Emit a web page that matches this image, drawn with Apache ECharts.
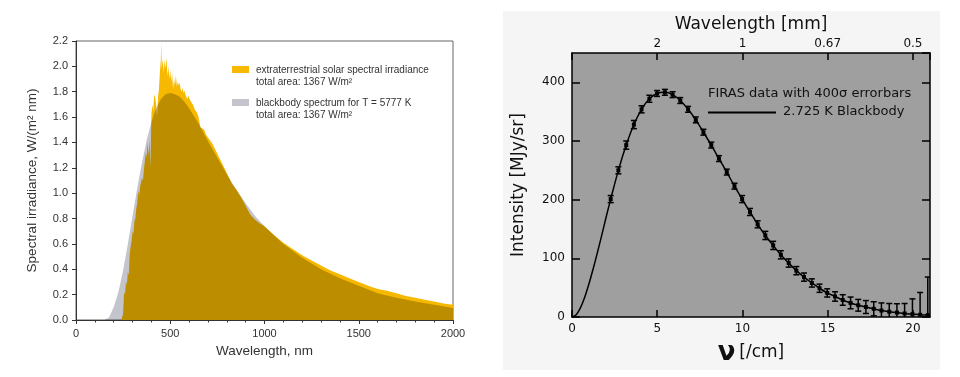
<!DOCTYPE html>
<html>
<head>
<meta charset="utf-8">
<script src="https://cdn.jsdelivr.net/npm/echarts@6/dist/echarts.min.js"></script>
<style>
  html, body { margin: 0; padding: 0; background: #fff; }
  #chart { width: 960px; height: 377px; }
</style>
</head>
<body>
<div id="chart"></div>
<script>
// left panel: extraterrestrial solar spectrum vs 5777 K blackbody (W/(m² nm))
const solarWavelength = [240, 250, 255, 260, 265, 270, 275, 280, 285, 290, 295, 300, 305, 310, 315, 320, 325, 330, 335, 340,
  345, 350, 355, 360, 365, 370, 375, 380, 385, 390, 395, 400, 405, 410, 415, 420, 425, 430, 435, 440, 445, 450, 452,
  455, 460, 465, 470, 475, 480, 485, 490, 495, 500, 505, 510, 515, 520, 525, 530, 535, 540, 545, 550, 555, 560, 565,
  570, 575, 580, 585, 590, 595, 600, 610, 620, 630, 640, 650, 660, 670, 680, 690, 700, 720, 740, 760, 780, 800,
  825, 850, 875, 900, 925, 950, 975, 1000, 1050, 1100, 1150, 1200, 1250, 1300, 1350, 1400, 1450, 1500, 1550, 1600,
  1650, 1700, 1750, 1800, 1850, 1900, 1950, 2000];
const solarIrradiance = [0, 0.05, 0.22, 0.2, 0.3, 0.28, 0.38, 0.35, 0.52, 0.58, 0.62, 0.7, 0.68, 0.78, 0.8, 0.88, 0.92, 1.02, 0.98, 1.05,
  1.06, 1.12, 1.1, 1.18, 1.25, 1.32, 1.28, 1.4, 1.3, 1.42, 1.2, 1.62, 1.7, 1.65, 1.78, 1.75, 1.7, 1.6, 1.75, 1.82, 1.95, 2.05, 2.19,
  1.98, 2.06, 1.95, 2.05, 1.98, 2.07, 1.92, 2.0, 1.9, 1.97, 1.88, 1.95, 1.82, 1.9, 1.85, 1.93, 1.84, 1.88, 1.85, 1.87, 1.82, 1.8, 1.83,
  1.79, 1.81, 1.78, 1.76, 1.74, 1.77, 1.75, 1.72, 1.7, 1.66, 1.64, 1.6, 1.52, 1.53, 1.5, 1.46, 1.44, 1.4, 1.34, 1.28, 1.22, 1.16,
  1.08, 1.03, 0.97, 0.9, 0.83, 0.79, 0.76, 0.74, 0.67, 0.61, 0.56, 0.51, 0.47, 0.43, 0.39, 0.36, 0.33, 0.3, 0.27, 0.245,
  0.23, 0.21, 0.19, 0.175, 0.16, 0.145, 0.13, 0.12];
const bbWavelength = [150, 175, 200, 225, 250, 275, 300, 325, 350, 375, 400, 425, 450, 475, 500, 525, 550, 575, 600, 650,
  700, 750, 800, 850, 900, 950, 1000, 1100, 1200, 1300, 1400, 1500, 1600, 1700, 1800, 1900, 2000];
const bbIrradiance = [0, 0.02, 0.1, 0.22, 0.39, 0.6, 0.82, 1.04, 1.24, 1.42, 1.56, 1.67, 1.74, 1.78, 1.79, 1.78, 1.76, 1.72, 1.67, 1.55,
  1.41, 1.28, 1.15, 1.03, 0.92, 0.82, 0.74, 0.6, 0.49, 0.4, 0.33, 0.27, 0.21, 0.175, 0.145, 0.12, 0.095];

// right panel: COBE FIRAS spectrum (MJy/sr) with 400 sigma error bars
const firasNu = [2.27, 2.72, 3.18, 3.63, 4.08, 4.54, 4.99, 5.45, 5.90, 6.35, 6.81, 7.26, 7.71, 8.17, 8.62, 9.08, 9.53, 9.98,
  10.44, 10.89, 11.34, 11.80, 12.25, 12.71, 13.16, 13.61, 14.07, 14.52, 14.97, 15.43, 15.88, 16.34, 16.79, 17.24,
  17.70, 18.15, 18.61, 19.06, 19.51, 19.97, 20.42, 20.87];
const firasIntensity = [201, 250, 293, 328, 354, 372, 381, 383, 379, 369, 354, 336, 315, 293, 270, 247, 223, 201,
  179, 158, 139, 122, 106, 92, 79, 68, 58, 49, 41, 35, 29, 24, 20, 17, 14, 11, 9, 7.6, 6, 4.9, 3.8, 3.1];
const firasError = [6, 6, 7, 7, 6, 6, 5, 5, 5, 5, 5, 5, 5, 5, 5, 5, 5, 6, 6, 6, 7, 7, 7, 7, 7, 7, 7, 7, 7, 8,
  9, 10, 10, 11, 12, 13, 14, 15, 17, 26, 38, 65];
const cmbNu = [0, 0.25, 0.5, 0.75, 1, 1.25, 1.5, 1.75, 2, 2.27, 2.72, 3.18, 3.63, 4.08, 4.54, 4.99, 5.45, 5.9, 6.35, 6.81,
  7.26, 7.71, 8.17, 8.62, 9.08, 9.53, 9.98, 10.44, 10.89, 11.34, 11.8, 12.25, 12.71, 13.16, 13.61, 14.07, 14.52, 14.97,
  15.43, 15.88, 16.34, 16.79, 17.24, 17.7, 18.15, 18.61, 19.06, 19.51, 19.97, 20.42, 20.87, 21];
const cmbIntensity = [0, 4, 16, 34, 57, 83, 111, 140, 170, 201, 250, 293, 328, 354, 372, 381, 383, 379, 369, 354,
  336, 315, 293, 270, 247, 223, 201, 179, 158, 139, 122, 106, 92, 79, 68, 58, 49, 41,
  35, 29, 24, 20, 17, 14, 11, 9, 7.6, 6, 4.9, 3.8, 3.1, 2.8];
const topTickNu = [5, 10, 15, 20];
const topTickLabels = ['2', '1', '0.67', '0.5'];

const GOLD = '#f6b800';
const GREY = '#c4c4cc';
const LFONT = 'Liberation Sans';
const RFONT = 'DejaVu Sans';

const chart = echarts.init(document.getElementById('chart'));

const option = {
  animation: false,
  backgroundColor: '#fff',
  graphic: [
    { type: 'rect', z: -10, silent: true, shape: { x: 503, y: 11, width: 437, height: 359 }, style: { fill: '#f5f5f5' } },
    // left legend
    { type: 'rect', shape: { x: 232, y: 66, width: 17, height: 7 }, style: { fill: GOLD } },
    { type: 'text', x: 256, y: 70, style: { text: 'extraterrestrial solar spectral irradiance', fontSize: 10, fontFamily: LFONT, fill: '#333', verticalAlign: 'middle' } },
    { type: 'text', x: 256, y: 82.5, style: { text: 'total area: 1367 W/m²', fontSize: 10, fontFamily: LFONT, fill: '#333', verticalAlign: 'middle' } },
    { type: 'rect', shape: { x: 232, y: 99, width: 17, height: 7 }, style: { fill: GREY } },
    { type: 'text', x: 256, y: 103, style: { text: 'blackbody spectrum for T = 5777 K', fontSize: 10, fontFamily: LFONT, fill: '#333', verticalAlign: 'middle' } },
    { type: 'text', x: 256, y: 115.5, style: { text: 'total area: 1367 W/m²', fontSize: 10, fontFamily: LFONT, fill: '#333', verticalAlign: 'middle' } },
    // right legend
    { type: 'text', x: 708, y: 94, style: { text: 'FIRAS data with 400σ errorbars', fontSize: 13, fontFamily: RFONT, fill: '#111', verticalAlign: 'middle' } },
    { type: 'line', shape: { x1: 708, y1: 112.5, x2: 776, y2: 112.5 }, style: { stroke: '#000', lineWidth: 2 } },
    { type: 'text', x: 783, y: 112, style: { text: '2.725 K Blackbody', fontSize: 13, fontFamily: RFONT, fill: '#111', verticalAlign: 'middle' } }
  ],
  grid: [
    { left: 76, right: 507, top: 41, bottom: 57, show: true, borderColor: '#666', borderWidth: 1, backgroundColor: 'transparent' },
    { left: 572, right: 30, top: 53, bottom: 60, show: true, borderWidth: 0, backgroundColor: '#9f9f9f' }
  ],
  xAxis: [
    {
      type: 'value', gridIndex: 0, min: 0, max: 2000, interval: 500,
      axisLine: { lineStyle: { color: '#333', width: 1 } },
      axisTick: { length: 4, lineStyle: { color: '#333' } },
      minorTick: { show: true, splitNumber: 5, length: 2.5, lineStyle: { color: '#333' } },
      splitLine: { show: false },
      axisLabel: { color: '#333', fontSize: 11, fontFamily: LFONT, margin: 8, formatter: v => String(v) },
      name: 'Wavelength, nm', nameLocation: 'middle', nameGap: 24,
      nameTextStyle: { color: '#333', fontSize: 13.5, fontFamily: LFONT }
    },
    {
      type: 'value', gridIndex: 1, min: 0, max: 21, interval: 5, position: 'bottom',
      axisLine: { onZero: false, lineStyle: { color: '#000', width: 1.5 } },
      axisTick: { inside: true, length: 7, lineStyle: { color: '#000', width: 1.5 } },
      splitLine: { show: false },
      axisLabel: { color: '#111', fontSize: 12, fontFamily: RFONT, margin: 6, showMaxLabel: false },
      name: '{nu|ν} {u|[/cm]}', nameLocation: 'middle', nameGap: 22,
      nameTextStyle: {
        color: '#111', fontFamily: RFONT,
        rich: {
          nu: { fontSize: 26, fontWeight: 'bold', fontFamily: RFONT, color: '#111' },
          u: { fontSize: 17, fontFamily: RFONT, color: '#111' }
        }
      }
    },
    {
      type: 'value', gridIndex: 1, min: 0, max: 21, interval: 5, position: 'top',
      axisLine: { onZero: false, lineStyle: { color: '#000', width: 1.5 } },
      axisTick: { inside: true, length: 7, lineStyle: { color: '#000', width: 1.5 } },
      splitLine: { show: false },
      axisLabel: {
        color: '#111', fontSize: 12, fontFamily: RFONT, margin: 3,
        formatter: v => {
          const i = topTickNu.indexOf(v);
          return i >= 0 ? topTickLabels[i] : '';
        }
      },
      name: 'Wavelength [mm]', nameLocation: 'middle', nameGap: 17,
      nameTextStyle: { color: '#111', fontSize: 17, fontFamily: RFONT }
    }
  ],
  yAxis: [
    {
      type: 'value', gridIndex: 0, min: 0, max: 2.2, interval: 0.2,
      axisLine: { lineStyle: { color: '#333', width: 1 } },
      axisTick: { length: 4, lineStyle: { color: '#333' } },
      splitLine: { show: false },
      axisLabel: { color: '#333', fontSize: 11, fontFamily: LFONT, margin: 8, formatter: v => v.toFixed(1) },
      name: 'Spectral irradiance, W/(m² nm)', nameLocation: 'middle', nameGap: 37,
      nameTextStyle: { color: '#333', fontSize: 13.5, fontFamily: LFONT }
    },
    {
      type: 'value', gridIndex: 1, min: 0, max: 450, interval: 100, position: 'left',
      axisLine: { onZero: false, lineStyle: { color: '#000', width: 1.5 } },
      axisTick: { inside: true, length: 8, lineStyle: { color: '#000', width: 1.5 } },
      splitLine: { show: false },
      axisLabel: { color: '#111', fontSize: 12, fontFamily: RFONT, margin: 7, showMaxLabel: false },
      name: 'Intensity [MJy/sr]', nameLocation: 'middle', nameGap: 45,
      nameTextStyle: { color: '#111', fontSize: 17, fontFamily: RFONT }
    },
    {
      type: 'value', gridIndex: 1, min: 0, max: 450, interval: 100, position: 'right',
      axisLine: { onZero: false, lineStyle: { color: '#000', width: 1.5 } },
      axisTick: { inside: true, length: 8, lineStyle: { color: '#000', width: 1.5 } },
      splitLine: { show: false },
      axisLabel: { show: false }
    }
  ],
  series: [
    {
      name: 'solar', type: 'line', xAxisIndex: 0, yAxisIndex: 0, z: 2,
      data: solarWavelength.map((w, i) => [w, solarIrradiance[i]]),
      symbol: 'none', lineStyle: { width: 0 },
      areaStyle: { color: GOLD, opacity: 1 }
    },
    {
      // blackbody area multiplied over the solar area, so the overlap turns dark gold
      name: 'blackbody', type: 'line', xAxisIndex: 0, yAxisIndex: 0, z: 3,
      blendMode: 'multiply',
      data: bbWavelength.map((w, i) => [w, bbIrradiance[i]]),
      symbol: 'none', lineStyle: { width: 0 },
      areaStyle: { color: GREY, opacity: 1 }
    },
    {
      name: 'cmb', type: 'line', xAxisIndex: 1, yAxisIndex: 1, z: 3,
      data: cmbNu.map((n, i) => [n, cmbIntensity[i]]),
      symbol: 'none', smooth: 0.3, lineStyle: { color: '#000', width: 1.5 }
    },
    {
      name: 'firas', type: 'custom', xAxisIndex: 1, yAxisIndex: 1, z: 4, clip: true,
      data: firasNu.map((n, i) => [n, firasIntensity[i], firasError[i]]),
      renderItem: (params, api) => {
        const x = api.value(0), y = api.value(1), e = api.value(2);
        const top = api.coord([x, y + e]);
        const bot = api.coord([x, y - e]);
        const c = api.coord([x, y]);
        const cap = 3;
        const st = { stroke: '#000', lineWidth: 1.5 };
        return {
          type: 'group',
          children: [
            { type: 'line', shape: { x1: top[0], y1: top[1], x2: bot[0], y2: bot[1] }, style: st },
            { type: 'line', shape: { x1: top[0] - cap, y1: top[1], x2: top[0] + cap, y2: top[1] }, style: st },
            { type: 'line', shape: { x1: bot[0] - cap, y1: bot[1], x2: bot[0] + cap, y2: bot[1] }, style: st },
            { type: 'rect', shape: { x: c[0] - 2, y: c[1] - 2, width: 4, height: 4 }, style: { fill: '#000' } }
          ]
        };
      }
    }
  ]
};

chart.setOption(option);
</script>
</body>
</html>
